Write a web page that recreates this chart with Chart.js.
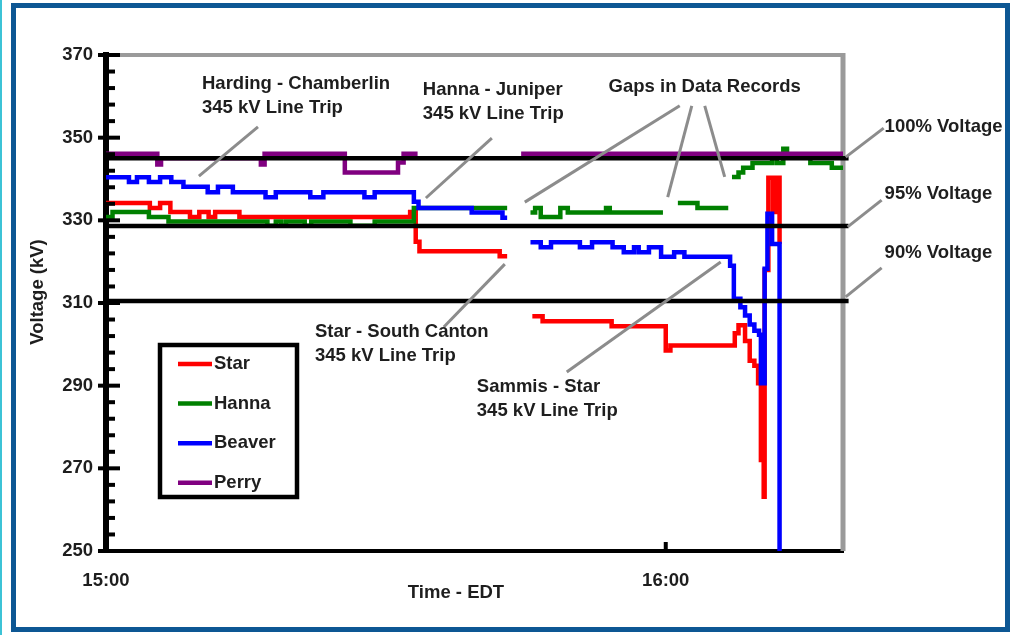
<!DOCTYPE html>
<html>
<head>
<meta charset="utf-8">
<script src="https://cdn.jsdelivr.net/npm/chart.js@4.4.1/dist/chart.umd.min.js"></script>
<style>
  html,body{margin:0;padding:0;background:#fff;}
  #wrap{position:relative;width:1012px;height:635px;overflow:hidden;}
  #frame{position:absolute;left:11px;top:3px;width:989px;height:619px;border:5px solid #0d5794;pointer-events:none;}
  #edge{position:absolute;left:0;top:0;width:2px;height:635px;background:#3cc3d6;}
</style>
</head>
<body>
<div id="wrap">
  <canvas id="chart" width="1012" height="635"></canvas>
  <div id="edge"></div>
  <div id="frame"></div>
</div>
<script>
// values: time = minutes after 15:00 EDT, voltage in kV
// each point holds its value until the next point (step trace), null = gap in data
const starMin  = [0, 4.7, 5.8, 6.9, 9.0, 10.0, 11.0, 11.7, 14.3, 32.6, 33.2, 33.6, 42.2, 43.0, 44.0,
                  45.7, 46.8, 54.2, 60.0, 60.5, 67.4, 67.8, 68.5, 69.0, 69.5, 69.9, 70.2, 70.5, 70.6,
                  71.0, 71.5, 71.8, 72.2, 72.3];
const starKV   = [334.2, 333.0, 334.2, 332.0, 330.8, 332.0, 330.8, 332.0, 330.8, 332.0, 324.8, 322.5, 321.3, 321.3, null,
                  306.8, 305.6, 304.4, 298.5, 299.7, 302.7, 304.6, 300.8, 296.0, 294.8, 290.6, 272.0, 263.1, 318.0,
                  340.3, 332.0, 340.3, 324.3, 324.3];

const hannaMin = [0, 0.7, 4.6, 6.7, 17.3, 18.2, 18.8, 19.3, 21.3, 22.0, 26.2, 28.8, 33.0, 43.0, 44.0,
                  45.5, 46.0, 46.6, 48.7, 49.5, 53.6, 54.0, 59.7, 60.5,
                  61.3, 63.4, 66.7, 67.0,
                  67.1, 67.8, 68.3, 69.3, 71.4, 71.9, 72.6, 73.0, 75.5, 77.8, 79];
const hannaKV  = [330.8, 332.0, 330.8, 329.7, 328.7, 329.7, 328.7, 329.7, 328.7, 329.7, 328.7, 329.7, 333.0, 333.0, null,
                  331.9, 333.0, 330.8, 333.0, 331.9, 333.0, 331.9, 331.9, null,
                  334.2, 333.0, 333.0, null,
                  340.5, 341.6, 342.7, 343.9, 345.5, 343.9, 347.3, 345.5, 343.9, 342.7, 342.7];

const beaverMin = [0, 2.46, 3.32, 4.6, 5.8, 7.0, 8.3, 10.9, 12.0, 13.6, 17.1, 18.2, 21.9, 23.3, 27.7, 28.8,
                   33.0, 33.5, 39.2, 42.5, 43.0, 44.0,
                   45.5, 46.6, 47.7, 50.8, 52.1, 54.3, 55.5, 56.6, 57.1, 58.2, 59.5, 60.9, 62.0,
                   66.9, 67.3, 68.0, 68.5, 69.0, 69.5, 70.0, 70.2, 70.6, 70.9, 71.4, 72.2, 72.3];
const beaverKV  = [340.4, 339.3, 340.4, 339.3, 340.4, 339.3, 338.1, 336.8, 338.1, 336.8, 335.6, 336.8, 335.6, 336.8, 335.6, 336.8,
                   334.5, 333.0, 331.9, 330.6, 330.6, null,
                   324.7, 323.5, 324.7, 323.5, 324.7, 323.5, 322.3, 323.5, 322.3, 323.5, 321.2, 322.3, 321.2,
                   319.0, 311.0, 309.0, 307.0, 304.8, 303.3, 302.3, 290.6, 318.3, 331.6, 324.3, 249.0, 249.0];

const perryMin = [0, 5.5, 5.9, 16.6, 17.0, 25.6, 31.3, 31.9, 33.4, 44.0, 44.5, 79];
const perryKV  = [346.1, 343.5, 345.0, 343.5, 346.1, 341.6, 344.0, 346.1, 346.1, null, 346.1, 346.1];

const refKV  = [345, 328.6, 310.5];
const refEnd = 79.6;

const xTickMin  = [0, 60];
const xTickText = ['15:00', '16:00'];
const yLabelKV  = [250, 270, 290, 310, 330, 350, 370];
const yMinorStep = 4;

// annotations: text lines, first-line anchor [min, kV], leaders [min1, kV1, min2, kV2]
const notes = [
  { lines: ['Harding - Chamberlin', '345 kV Line Trip'], at: [10.29, 363.0], align: 'left',
    leaders: [[16.29, 352.6, 9.96, 340.7]] },
  { lines: ['Hanna - Juniper', '345 kV Line Trip'], at: [33.96, 361.5], align: 'left',
    leaders: [[41.36, 349.9, 34.29, 335.4]] },
  { lines: ['Gaps in Data Records'], at: [64.18, 362.3], align: 'center',
    leaders: [[61.5, 357.7, 44.89, 334.4], [62.79, 357.7, 60.21, 335.6], [64.18, 357.7, 66.32, 340.5]] },
  { lines: ['100% Voltage'], at: [83.46, 352.6], align: 'left', leaders: [[79.29, 345.3, 83.36, 352.3]] },
  { lines: ['95% Voltage'], at: [83.46, 336.4], align: 'left', leaders: [[79.5, 328.4, 83.14, 334.9]] },
  { lines: ['90% Voltage'], at: [83.46, 322.1], align: 'left', leaders: [[79.29, 311.5, 83.14, 318.5]] },
  { lines: ['Star - South Canton', '345 kV Line Trip'], at: [22.39, 303.0], align: 'left',
    leaders: [[42.75, 319.4, 36.21, 304.2]] },
  { lines: ['Sammis - Star', '345 kV Line Trip'], at: [39.75, 289.7], align: 'left',
    leaders: [[65.89, 319.9, 49.39, 293.3]] }
];

const FAMILY = '"Liberation Sans", Arial, sans-serif';
const FSIZE = 18.5;
const TEXT = '#1e1e1e';
const pts = (t, v) => t.map((x, i) => ({ x, y: v[i] }));

const series = [
  { label: 'Star',   color: '#ff0000', data: pts(starMin, starKV),     order: 5 },
  { label: 'Hanna',  color: '#008000', data: pts(hannaMin, hannaKV),   order: 4 },
  { label: 'Beaver', color: '#0000ff', data: pts(beaverMin, beaverKV), order: 3 },
  { label: 'Perry',  color: '#800080', data: pts(perryMin, perryKV),   order: 2 }
];

const datasets = series.map(s => ({
  label: s.label, data: s.data, borderColor: s.color, backgroundColor: s.color,
  borderWidth: 4.5, stepped: true, spanGaps: false, fill: false, order: s.order
}));
refKV.forEach(v => datasets.push({
  label: 'ref', data: [{ x: 0, y: v }, { x: refEnd, y: v }], borderColor: '#000',
  borderWidth: 4.5, fill: false, clip: false, order: 1
}));

const extras = {
  id: 'extras',
  beforeDatasetsDraw(chart) {
    const { ctx, chartArea: a } = chart;
    ctx.save();
    ctx.strokeStyle = '#9a9a9a';
    ctx.lineWidth = 4;
    ctx.beginPath(); ctx.moveTo(a.left + 3, a.top); ctx.lineTo(a.right, a.top); ctx.stroke();
    ctx.lineWidth = 5;
    ctx.beginPath(); ctx.moveTo(a.right, a.top - 2); ctx.lineTo(a.right, a.bottom); ctx.stroke();
    ctx.restore();
  },
  afterDatasetsDraw(chart) {
    const { ctx, chartArea: a } = chart;
    const xs = chart.scales.x, ys = chart.scales.y;
    ctx.save();
    // tick marks (inside), major ones cross the axis
    ctx.strokeStyle = '#000';
    ctx.lineWidth = 4;
    for (let v = ys.min; v <= ys.max; v += yMinorStep) {
      const p = ys.getPixelForValue(v);
      const major = yLabelKV.includes(v);
      ctx.beginPath();
      ctx.moveTo(major ? a.left - 8 : a.left, p);
      ctx.lineTo(a.left + (major ? 14 : 9), p);
      ctx.stroke();
    }
    xTickMin.forEach(v => {
      const p = xs.getPixelForValue(v);
      ctx.beginPath(); ctx.moveTo(p, a.bottom); ctx.lineTo(p, a.bottom - 9); ctx.stroke();
    });

    // annotations
    ctx.font = 'bold ' + FSIZE + 'px ' + FAMILY;
    ctx.textBaseline = 'middle';
    notes.forEach(n => {
      ctx.strokeStyle = '#8c8c8c';
      ctx.lineWidth = 3;
      n.leaders.forEach(l => {
        ctx.beginPath();
        ctx.moveTo(xs.getPixelForValue(l[0]), ys.getPixelForValue(l[1]));
        ctx.lineTo(xs.getPixelForValue(l[2]), ys.getPixelForValue(l[3]));
        ctx.stroke();
      });
      ctx.fillStyle = TEXT;
      ctx.textAlign = n.align;
      const px = xs.getPixelForValue(n.at[0]), py = ys.getPixelForValue(n.at[1]);
      n.lines.forEach((t, i) => ctx.fillText(t, px, py + i * 24));
    });

    // legend box
    ctx.strokeStyle = '#000';
    ctx.lineWidth = 4.5;
    ctx.strokeRect(160, 345, 137, 152);
    ctx.textAlign = 'left';
    chart.data.datasets.slice(0, series.length).forEach((d, i) => {
      const yy = 364 + i * 39.6;
      ctx.strokeStyle = d.borderColor;
      ctx.lineWidth = 4.5;
      ctx.beginPath(); ctx.moveTo(178, yy); ctx.lineTo(212, yy); ctx.stroke();
      ctx.fillStyle = TEXT;
      ctx.fillText(d.label, 214, yy);
    });

    // axis titles
    ctx.textAlign = 'center';
    ctx.fillText('Time - EDT', 456, 593);
    ctx.translate(38, 292);
    ctx.rotate(-Math.PI / 2);
    ctx.fillText('Voltage (kV)', 0, 0);
    ctx.restore();
  }
};

new Chart(document.getElementById('chart'), {
  type: 'line',
  data: { datasets },
  options: {
    responsive: false,
    animation: false,
    layout: { padding: { left: 0, top: 55, right: 169, bottom: 0 } },
    plugins: { legend: { display: false }, tooltip: { enabled: false } },
    elements: { point: { radius: 0 }, line: { tension: 0, borderCapStyle: 'butt' } },
    scales: {
      x: {
        type: 'linear', min: 0, max: 79,
        afterBuildTicks: s => { s.ticks = xTickMin.map(v => ({ value: v })); },
        afterFit: s => { s.height = 84; },
        grid: { display: false, drawTicks: false },
        border: { color: '#000', width: 4 },
        ticks: {
          autoSkip: false, maxRotation: 0, padding: 19, color: TEXT,
          font: { family: FAMILY, size: FSIZE, weight: 'bold' },
          callback: v => xTickText[xTickMin.indexOf(v)] || ''
        }
      },
      y: {
        min: 250, max: 370,
        afterBuildTicks: s => { s.ticks = yLabelKV.map(v => ({ value: v })); },
        afterFit: s => { s.width = 106; },
        grid: { display: false, drawTicks: false },
        border: { color: '#000', width: 6 },
        ticks: {
          autoSkip: false, padding: 13, color: TEXT,
          font: { family: FAMILY, size: FSIZE, weight: 'bold' }
        }
      }
    }
  },
  plugins: [extras]
});
</script>
</body>
</html>
